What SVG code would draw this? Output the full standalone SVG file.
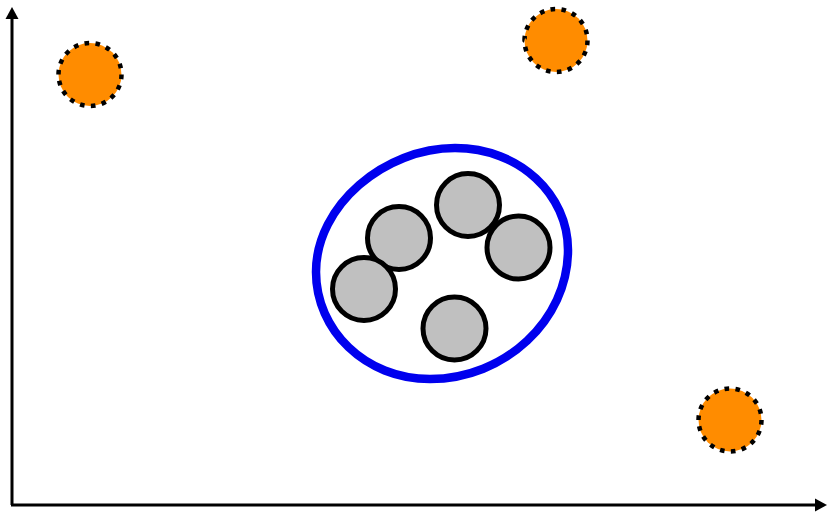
<svg xmlns="http://www.w3.org/2000/svg" width="827" height="513" viewBox="0 0 827 513">
<style>
.orange{fill:#ff8c00;stroke:#000;stroke-width:4.5;stroke-dasharray:0.42 0.58}
.gray{fill:#c0c0c0;stroke:#000;stroke-width:5}
.axis{stroke:#000;stroke-width:3;fill:none}
</style>
<rect width="827" height="513" fill="#fff"/>
<g id="axes">
<line class="axis" x1="12" y1="505" x2="12" y2="18"/>
<polygon points="12,7 5.5,19 18.5,19" fill="#000"/>
<line class="axis" x1="11" y1="505" x2="817" y2="505"/>
<polygon points="827,505 815,498.5 815,511.5" fill="#000"/>
</g>
<g id="o1"><circle class="orange" cx="90" cy="74.5" r="31.5" pathLength="18"/></g>
<g id="o2"><circle class="orange" cx="556" cy="40.5" r="31.5" pathLength="18"/></g>
<g id="o3"><circle class="orange" cx="730" cy="420" r="31.5" pathLength="18"/></g>
<g id="cluster">
<path d="M455,148 C520,148 568,195 568,250 C568,320 505,379 430,379 C365,379 316,330 316,272 C316,205 385,148 455,148 Z" fill="none" stroke="#0000ee" stroke-width="8.5"/>
</g>
<g id="c1"><circle class="gray" cx="399" cy="238" r="31.5"/></g>
<g id="c2"><circle class="gray" cx="364" cy="289" r="31.5"/></g>
<g id="c3"><circle class="gray" cx="468" cy="205" r="31.5"/></g>
<g id="c4"><circle class="gray" cx="518.5" cy="247.5" r="31.5"/></g>
<g id="c5"><circle class="gray" cx="454.5" cy="328.5" r="31.5"/></g>
</svg>
